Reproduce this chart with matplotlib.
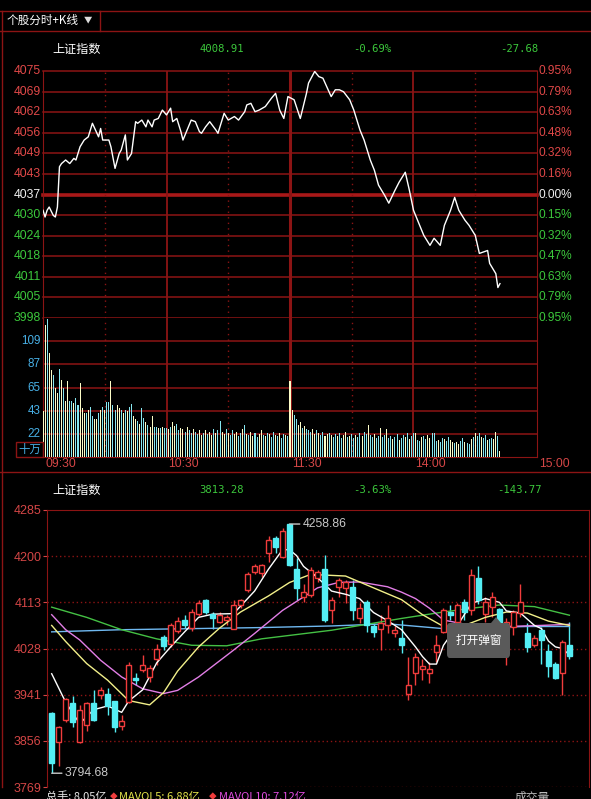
import numpy as np
import matplotlib
matplotlib.use('Agg')
import matplotlib.pyplot as plt
from matplotlib.lines import Line2D
from matplotlib.patches import Rectangle, FancyBboxPatch, Polygon

plt.rcParams['font.family'] = ['Noto Sans CJK SC', 'DejaVu Sans']

W, H = 591, 799

# ---- 分时 (intraday) data, 上证指数 ----
prev_close = 4036.59
t_min = [0, 1, 2, 3, 5, 6, 7, 8, 9, 11,
         13, 15, 16, 18, 20, 22, 24, 27, 28, 29,
         32, 33, 35, 37, 38, 40, 41, 43, 45, 46,
         48, 50, 51, 53, 54, 56, 58, 60, 62, 63,
         65, 67, 68, 72, 74, 76, 77, 79, 81, 84,
         85, 88, 90, 93, 95, 98, 99, 101, 103, 105,
         108, 111, 113, 115, 117, 119, 122, 125, 128, 129,
         132, 134, 136, 140, 142, 144, 146, 149, 151, 154,
         156, 159, 161, 163, 166, 168, 171, 173, 176, 178,
         180, 183, 185, 188, 190, 193, 195, 198, 200, 202,
         205, 207, 210, 212, 216, 217, 220, 221, 222]
price = [4031.7, 4029.6, 4031.7, 4032.7, 4030.1, 4029.6, 4032.7, 4045.2, 4046.2, 4047.3,
         4046.2, 4047.8, 4047.3, 4051.4, 4053.5, 4054.5, 4058.7, 4054.5, 4057.1, 4053.5,
         4053.5, 4051.4, 4044.7, 4049.3, 4050.4, 4055.1, 4047.3, 4049.3, 4059.2, 4058.7,
         4059.7, 4057.6, 4059.7, 4057.6, 4059.7, 4060.2, 4062.8, 4061.3, 4063.4, 4059.2,
         4060.2, 4056.1, 4053.5, 4059.7, 4059.2, 4056.1, 4055.6, 4057.6, 4059.2, 4056.6,
         4055.6, 4061.8, 4059.7, 4060.8, 4059.7, 4062.3, 4064.4, 4064.9, 4062.3, 4062.8,
         4063.9, 4066.5, 4068.0, 4062.8, 4060.2, 4067.0, 4066.0, 4060.2, 4068.0, 4071.2,
         4074.8, 4073.2, 4072.7, 4067.0, 4069.1, 4069.1, 4068.5, 4066.0, 4062.8, 4056.6,
         4053.5, 4047.3, 4044.1, 4039.5, 4036.3, 4033.9, 4037.9, 4040.4, 4043.5, 4037.9,
         4031.7, 4027.0, 4023.9, 4020.8, 4023.0, 4020.8, 4027.0, 4031.7, 4035.7, 4031.7,
         4028.6, 4027.0, 4023.9, 4018.3, 4019.2, 4015.2, 4012.0, 4007.7, 4008.91]

# volume per minute, 十万
vol = [43, 124, 130, 98, 82, 77, 65, 60, 83, 73,
       65, 53, 72, 53, 53, 51, 56, 49, 70, 46,
       41, 41, 44, 47, 39, 36, 36, 41, 44, 47,
       44, 52, 52, 72, 49, 44, 49, 46, 44, 41,
       44, 43, 47, 50, 39, 36, 34, 31, 46, 37,
       33, 30, 28, 39, 28, 28, 27, 27, 28, 27,
       27, 26, 28, 33, 29, 31, 25, 27, 26, 24,
       28, 25, 23, 26, 24, 22, 25, 21, 23, 25,
       22, 24, 21, 26, 23, 25, 34, 24, 22, 26,
       23, 21, 25, 22, 24, 20, 23, 26, 30, 22,
       21, 24, 20, 23, 19, 22, 25, 21, 20, 23,
       22, 19, 24, 21, 20, 23, 18, 22, 21, 20,
       72, 44, 40, 36, 30, 33, 27, 29, 26, 25,
       24, 26, 22, 25, 23, 21, 24, 20, 22, 23,
       21, 19, 22, 20, 23, 18, 21, 24, 19, 20,
       22, 18, 21, 19, 23, 20, 24, 22, 30, 21,
       19, 22, 18, 20, 27, 19, 21, 26, 18, 20,
       17, 19, 22, 16, 18, 21, 19, 23, 17, 20,
       23, 23, 16, 15, 19, 20, 17, 21, 18, 23,
       23, 15, 16, 14, 18, 17, 15, 19, 16, 14,
       13, 14, 12, 15, 18, 14, 13, 12, 17, 19,
       23, 20, 23, 19, 18, 21, 16, 17, 18, 17,
       24, 20, 6]
vol_dir = ("uuduuduudu" "duuddudduu" "ududduudud" "uddudduudu" "dudduududd"
           "uduuddudud" "duduudduud" "uddudduudu" "duududduud" "udduuddudu"
           "duudduudud" "uddududdud" "uudduududd" "duududduud" "uddudduudu"
           "ddudduddud" "dudduddudd" "udduddudud" "duddudduud" "dduddudduu"
           "duudduddud" "uddudduddu" "udu")

left_labels = ['4075', '4069', '4062', '4056', '4049', '4043', '4037',
               '4030', '4024', '4018', '4011', '4005', '3998']
right_labels = ['0.95%', '0.79%', '0.63%', '0.48%', '0.32%', '0.16%', '0.00%',
                '0.15%', '0.32%', '0.47%', '0.63%', '0.79%', '0.95%']
vol_labels = ['22', '43', '65', '87', '109']
time_labels = ['09:30', '10:30', '11:30', '14:00', '15:00']
head1 = ['4008.91', '-0.69%', '-27.68']

# ---- 日K data ----
k_open = [3907, 3853, 3893, 3926, 3853, 3884, 3926, 3940, 3943, 3929,
          3882, 3928, 3972, 3987, 3974, 4008, 4048, 4035, 4060, 4080,
          4065, 4092, 4117, 4092, 4077, 4080, 4064, 4108, 4136, 4170,
          4167, 4204, 4232, 4198, 4258, 4176, 4123, 4127, 4158, 4176,
          4099, 4142, 4139, 4142, 4083, 4114, 4069, 4064, 4071, 4055,
          4046, 3943, 3981, 3988, 3982, 4021, 4058, 4095, 4077, 4114,
          4099, 4158, 4092, 4105, 4100, 4064, 4067, 4094, 4055, 4033,
          4061, 4022, 3998, 3981, 4033]
k_close = [3813.28, 3881, 3932, 3890, 3913, 3925, 3893, 3949, 3920, 3881,
           3892, 3996, 3968, 3996, 3990, 4027, 4031, 4070, 4078, 4070,
           4095, 4111, 4095, 4083, 4089, 4086, 4108, 4117, 4166, 4181,
           4182, 4229, 4217, 4246, 4182, 4139, 4133, 4173, 4170, 4080,
           4117, 4155, 4151, 4099, 4102, 4071, 4058, 4074, 4083, 4061,
           4033, 3959, 4011, 3994, 3988, 4033, 4099, 4089, 4108, 4095,
           4163, 4117, 4114, 4123, 4075, 4077, 4095, 4114, 4030, 4046,
           4043, 3994, 3972, 4039, 4013]
k_high = [3909, 3883, 3935, 3938, 3921, 3928, 3949, 3956, 3953, 3930,
          3903, 4001, 3981, 4015, 3996, 4036, 4052, 4075, 4085, 4090,
          4100, 4118, 4120, 4095, 4095, 4089, 4117, 4120, 4170, 4185,
          4185, 4236, 4236, 4251, 4258.86, 4195, 4148, 4179, 4173, 4201,
          4123, 4158, 4155, 4155, 4111, 4117, 4074, 4089, 4108, 4068,
          4080, 4011, 4018, 4008, 4002, 4052, 4102, 4108, 4111, 4120,
          4175, 4180, 4123, 4133, 4102, 4083, 4099, 4148, 4074, 4052,
          4067, 4036, 4002, 4043, 4077]
k_low = [3794.68, 3809, 3890, 3881, 3851, 3873, 3892, 3932, 3903, 3872,
         3875, 3925, 3959, 3983, 3965, 3996, 4025, 4030, 4055, 4065,
         4060, 4088, 4092, 4064, 4074, 4070, 4064, 4103, 4133, 4166,
         4160, 4189, 4204, 4195, 4180, 4117, 4114, 4123, 4151, 4077,
         4074, 4123, 4111, 4080, 4074, 4058, 4049, 4024, 4055, 4049,
         4018, 3931, 3959, 3968, 3962, 4002, 4055, 4080, 4074, 4080,
         4090, 4110, 4077, 4086, 4071, 3996, 4052, 4086, 4021, 4030,
         3999, 3974, 3970, 3940, 4008]

ma5_i = [0, 2, 4, 6, 8, 10, 11, 13, 15, 17, 19, 21, 23, 26, 29, 31, 33, 34, 35, 36,
         38, 40, 42, 44, 46, 48, 50, 52, 53, 54, 55, 56, 58, 60, 62, 64, 65, 67, 69, 70,
         71, 72, 73, 74]
ma5_v = [3980, 3927, 3887, 3913, 3920, 3908, 3929, 3950, 4000, 4030, 4058, 4085, 4091, 4092,
         4134, 4175, 4211, 4211, 4200, 4180, 4159, 4134, 4128, 4120, 4094, 4079, 4062, 4030,
         4012, 3998, 3998, 4033, 4070, 4111, 4120, 4113, 4097, 4093, 4070, 4064, 4041, 4030,
         4027, 4015]
ma10_i = [0, 2, 5, 8, 11, 14, 16, 18, 21, 24, 27, 31, 34, 37, 42, 46, 50, 53, 56, 59,
          62, 65, 68, 71, 74]
ma10_v = [4070, 4040, 3999, 3968, 3930, 3922, 3945, 3985, 4030, 4065, 4095, 4125, 4150,
          4165, 4162, 4140, 4118, 4090, 4068, 4070, 4085, 4095, 4093, 4078, 4070]
ma20_i = [0, 2, 4, 7, 10, 13, 16, 18, 21, 26, 29, 33, 36, 38, 41, 44, 48, 50, 52, 54,
          56, 60, 65, 70, 74]
ma20_v = [4090, 4062, 4043, 4005, 3974, 3952, 3943, 3949, 3974, 4024, 4055, 4098, 4123,
          4140, 4150, 4151, 4142, 4132, 4120, 4102, 4080, 4070, 4068, 4070, 4072]
ma30_i = [0, 5, 10, 15, 20, 25, 30, 35, 40, 45, 50, 56, 60, 64, 69, 74]
ma30_v = [4104, 4085, 4062, 4045, 4033, 4032, 4045, 4053, 4061, 4072, 4083, 4095, 4102,
          4108, 4105, 4089]
ma60_i = [0, 10, 20, 30, 40, 48, 56, 62, 68, 74]
ma60_v = [4058, 4062, 4064, 4066, 4069, 4073, 4064, 4066, 4068, 4068]

k_ticks = ['4285', '4200', '4113', '4028', '3941', '3856', '3769']
head2 = ['3813.28', '-3.63%', '-143.77']

GRID = '#8c1414'
BASE = '#a81818'
LRED = '#e04848'
LGREEN = '#3cc83c'
WHITE = '#f0f0f0'
VBLUE = '#48b0e6'
TRED = '#d44646'
CRED = '#f03c3c'
CCYAN = '#54eef4'
NUM = ['Liberation Sans']

fig = plt.figure(figsize=(W / 100, H / 100), dpi=100)
fig.patch.set_facecolor('black')


def fbox(x0, y0, x1, y1):
    return [x0 / W, 1 - y1 / H, (x1 - x0) / W, (y1 - y0) / H]


def fline(xs, ys, **kw):
    fig.add_artist(Line2D([x / W for x in xs], [1 - y / H for y in ys],
                          transform=fig.transFigure, **kw))


def ftext(x, y, s, **kw):
    return fig.text(x / W, 1 - y / H, s, **kw)


# frame
fline([0, W], [11, 11], color=GRID, lw=1)
fline([0, W], [31, 31], color=GRID, lw=1)
fline([100, 100], [11, 31], color=GRID, lw=1)
fline([2, 2], [11, 787], color=GRID, lw=1)
fline([0, W], [472, 472], color=GRID, lw=1)
ftext(7, 20, '个股分时+K线', color='white', fontsize=8.4, va='center')
ftext(84, 20, '▼', color='#dddddd', fontsize=6, va='center')

# headers
for y, vals in ((49, head1), (490, head2)):
    ftext(52, y, '上证指数', color='white', fontsize=8.7, va='center')
    for x, s in zip((222, 372, 519), vals):
        ftext(x, y, s, color=LGREEN, fontsize=7.6, ha='center', va='center',
              family=['DejaVu Sans Mono'])

# ---- intraday price ----
ax_p = fig.add_axes(fbox(43, 71, 537, 318))
ax_v = fig.add_axes(fbox(43, 318, 537, 457))
for ax in (ax_p, ax_v):
    ax.set_facecolor('black')
    ax.set_xticks([])
    ax.set_yticks([])
    ax.set_xlim(0, 240)
    for s in ax.spines.values():
        s.set_color(GRID)
    ax.spines['top'].set_visible(False)
ax_p.spines['bottom'].set_visible(False)

lo, hi = prev_close * (1 - 0.0095), prev_close * (1 + 0.0095)
ax_p.set_ylim(lo, hi)
levels = np.linspace(hi, lo, len(left_labels))
mid = len(levels) // 2
for k, lv in enumerate(levels):
    base = k == mid
    ax_p.axhline(lv, color=BASE if base else GRID, lw=2.6 if base else 1.1,
                 clip_on=False, zorder=1)
    col = WHITE if base else (LRED if k < mid else LGREEN)
    ax_p.text(-0.005, lv, left_labels[k], transform=ax_p.get_yaxis_transform(),
              ha='right', va='center', color=col, fontsize=8.8, family=NUM)
    ax_p.text(1.004, lv, right_labels[k], transform=ax_p.get_yaxis_transform(),
              ha='left', va='center', color=col, fontsize=8.6, family=NUM)

for ax in (ax_p, ax_v):
    for m in (60, 180):
        ax.axvline(m, color=GRID, lw=1.3, zorder=1)
    ax.axvline(120, color=GRID, lw=2.2, zorder=1)
    for m in (30, 90, 150, 210):
        ax.axvline(m, color=GRID, lw=1, ls=(0, (1, 3)), zorder=1)

ax_p.plot(t_min, price, color='white', lw=1.0, zorder=3)

# volume
ax_v.set_ylim(0, 131)
vlev = [21.8 * (k + 1) for k in range(len(vol_labels))]
for lv, s in zip(vlev, vol_labels):
    ax_v.axhline(lv, color=GRID, lw=1.1, zorder=1)
    ax_v.text(-0.005, lv, s, transform=ax_v.get_yaxis_transform(), ha='right',
              va='center', color=VBLUE, fontsize=8.4, family=NUM)
vcols = ['#fdfdc8' if c == 'u' else '#86e6f0' for c in vol_dir]
ax_v.bar(np.arange(len(vol)), vol, width=0.5, color=vcols, zorder=3)

for m, s in zip((0, 60, 120, 180, 240), time_labels):
    ax_v.text(m + 1, -0.05, s, transform=ax_v.get_xaxis_transform(), ha='left',
              va='center', color=TRED, fontsize=8.8, family=NUM, clip_on=False)

fig.add_artist(Rectangle((16 / W, 1 - 457 / H), 27 / W, 15 / H, transform=fig.transFigure,
                         fill=False, edgecolor=GRID, lw=1))
ftext(29.5, 449, '十万', color=VBLUE, fontsize=8.2, ha='center', va='center')

# ---- daily K ----
ax_k = fig.add_axes(fbox(47, 510, 589, 787))
ax_k.set_facecolor('black')
ax_k.set_xlim(-0.67, 76.8)
ax_k.set_ylim(3769, 4285)
kt = np.linspace(4285, 3769, len(k_ticks))
ax_k.set_yticks(kt, labels=k_ticks)
ax_k.set_xticks([])
ax_k.tick_params(axis='y', colors=TRED, length=3, labelsize=9, pad=1)
for lab in ax_k.get_yticklabels():
    lab.set_family(NUM)
for s in ax_k.spines.values():
    s.set_color(GRID)
ax_k.spines['bottom'].set_visible(False)
for y in kt[1:]:
    ax_k.axhline(y, color=GRID, lw=1, ls=(0, (1, 2)), zorder=0)

for i, (o, c, h, l) in enumerate(zip(k_open, k_close, k_high, k_low)):
    up = c >= o
    col = CRED if up else CCYAN
    ax_k.vlines(i, l, h, color=col, lw=1, zorder=2)
    ax_k.add_patch(Rectangle((i - 0.36, min(o, c)), 0.72, max(abs(c - o), 1.8),
                             facecolor='black' if up else col, edgecolor=col,
                             lw=1, zorder=3))

ax_k.plot(ma60_i, ma60_v, color='#6fb8f0', lw=1, zorder=2.5)
ax_k.plot(ma30_i, ma30_v, color='#44c044', lw=1, zorder=2.5)
ax_k.plot(ma20_i, ma20_v, color='#e27ee6', lw=1, zorder=2.5)
ax_k.plot(ma10_i, ma10_v, color='#f2f08a', lw=1, zorder=2.5)
ax_k.plot(ma5_i, ma5_v, color='white', lw=1, zorder=2.5)

imax = int(np.argmax(k_high))
imin = int(np.argmin(k_low))
for idx, val in ((imax, k_high[imax]), (imin, k_low[imin])):
    ax_k.annotate(f'{val:.2f}', xy=(idx, val), xytext=(13, 0), textcoords='offset pixels',
                  color='#c8c8c8', fontsize=8.8, family=NUM, va='center', ha='left',
                  arrowprops=dict(arrowstyle='-', color='#c8c8c8', lw=1,
                                  shrinkA=0, shrinkB=0), zorder=6)

# popup tooltip
fig.add_artist(FancyBboxPatch((447 / W, 1 - 658 / H), 63 / W, 35 / H,
                              boxstyle='round,pad=0,rounding_size=0.005',
                              transform=fig.transFigure, facecolor='#5a5a5a',
                              edgecolor='none', zorder=10))
fig.add_artist(Polygon([(491 / W, 1 - 623 / H), (496 / W, 1 - 617 / H), (501 / W, 1 - 623 / H)],
                       closed=True, transform=fig.transFigure, facecolor='#5a5a5a',
                       edgecolor='none', zorder=10))
ftext(478.5, 640, '打开弹窗', color='white', fontsize=8.4, ha='center', va='center', zorder=11)

# bottom status row (cut by the image edge, as in the source)
ftext(46, 797, '总手: 8.05亿', color='#e8e8e8', fontsize=8, va='center')
ftext(110, 797, '◆', color=CRED, fontsize=5.5, va='center')
ftext(119, 797, 'MAVOL5: 6.88亿', color='#e6e64a', fontsize=8, va='center')
ftext(209, 797, '◆', color=CRED, fontsize=5.5, va='center')
ftext(219, 797, 'MAVOL10: 7.12亿', color='#e04ce0', fontsize=8, va='center')
ftext(515, 797, '成交量', color='#bbbbbb', fontsize=8.5, va='center')

fig.savefig('out.png', dpi=100, facecolor='black')
